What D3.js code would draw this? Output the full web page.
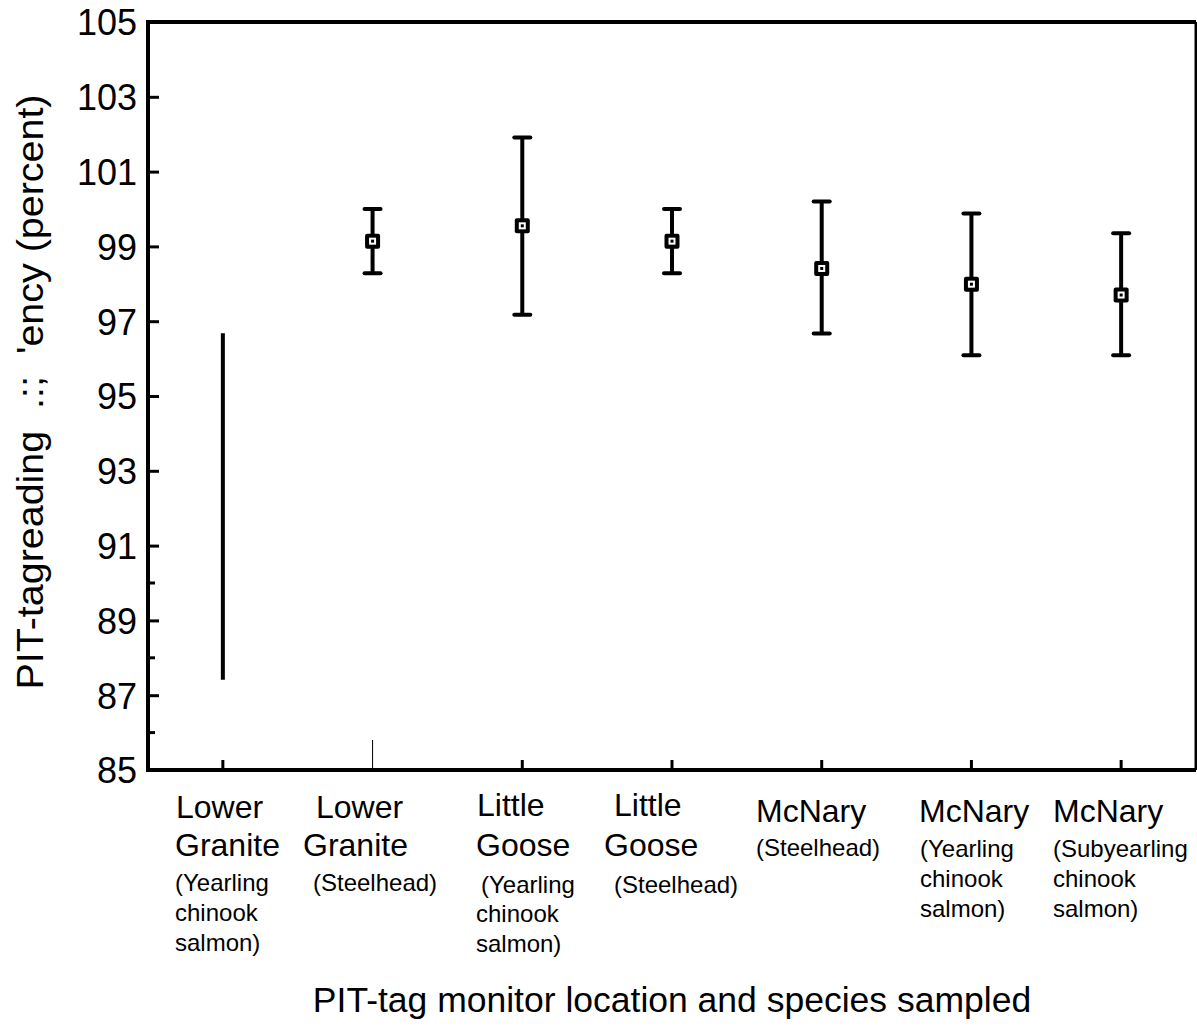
<!DOCTYPE html>
<html>
<head>
<meta charset="utf-8">
<script src="https://cdn.jsdelivr.net/npm/d3@7"></script>
<style>
  body { margin: 0; background: #fff; }
  svg { display: block; font-family: Arial, "Liberation Sans", sans-serif; }
</style>
</head>
<body>
<script>
// site / species groups along the x axis
var categories = ["LGR-YC", "LGR-SH", "LGS-YC", "LGS-SH", "MCN-SH", "MCN-YC", "MCN-SY"];
// mean reading efficiency and error bar ends (percent); first group has no mean marker
var means = [null, 99.14, 99.55, 99.14, 98.41, 97.99, 97.70];
var lower = [87.41, 98.28, 97.17, 98.28, 96.67, 96.09, 96.09];
var upper = [96.68, 100.0, 101.91, 100.0, 100.2, 99.88, 99.35];
var majorTicks = [85, 87, 89, 91, 93, 95, 97, 99, 101, 103, 105];
var minorTicks = [86, 88, 90];
// category label lines: [big lines], [small lines]
var bigLines = [["Lower", "Granite"], ["Lower", "Granite"], ["Little", "Goose"], ["Little", "Goose"],
                ["McNary"], ["McNary"], ["McNary"]];
var smallLines = [["(Yearling", "chinook", "salmon)"], ["(Steelhead)"], ["(Yearling", "chinook", "salmon)"],
                  ["(Steelhead)"], ["(Steelhead)"], ["(Yearling", "chinook", "salmon)"],
                  ["(Subyearling", "chinook", "salmon)"]];

function main() {
  var W = 1197, H = 1026;
  var svg = d3.select("body").append("svg")
    .attr("width", W)
    .attr("height", H);

  var left = 148, right = 1196, top = 22, bottom = 770;

  var x = d3.scaleBand().domain(categories).range([left, right]);
  var y = d3.scaleLinear().domain([85, 105]).range([bottom, top]);

  // frame
  svg.append("line").attr("x1", left).attr("x2", right).attr("y1", top).attr("y2", top)
    .attr("stroke", "#000").attr("stroke-width", 4);
  svg.append("line").attr("x1", right).attr("x2", right).attr("y1", top).attr("y2", bottom)
    .attr("stroke", "#000").attr("stroke-width", 3);

  // y axis
  var yAxis = svg.append("g")
    .attr("transform", "translate(" + left + ",0)")
    .call(d3.axisLeft(y).tickValues(majorTicks).tickSize(-11).tickPadding(11).tickFormat(d3.format("d")));
  yAxis.select(".domain").remove();
  yAxis.selectAll(".tick line").attr("stroke", "#000").attr("stroke-width", 3);
  yAxis.selectAll(".tick text")
    .attr("fill", "#000")
    .style("font-size", "36px")
    .attr("dy", "0.36em");
  svg.append("line").attr("x1", left).attr("x2", left).attr("y1", top - 2).attr("y2", bottom + 2)
    .attr("stroke", "#000").attr("stroke-width", 4);

  svg.selectAll(".minor")
    .data(minorTicks)
    .join("line")
    .attr("class", "minor")
    .attr("x1", left).attr("x2", left + 7)
    .attr("y1", d => y(d)).attr("y2", d => y(d))
    .attr("stroke", "#000").attr("stroke-width", 3);

  // x axis
  var xAxis = svg.append("g")
    .attr("transform", "translate(0," + bottom + ")")
    .call(d3.axisBottom(x).tickSize(-10).tickFormat(""));
  xAxis.select(".domain").remove();
  xAxis.selectAll(".tick line").attr("stroke", "#000").attr("stroke-width", 3);
  xAxis.selectAll(".tick line").filter((d, i) => i === 1)
    .attr("y2", -30).attr("stroke-width", 1);
  svg.append("line").attr("x1", left - 2).attr("x2", right).attr("y1", bottom).attr("y2", bottom)
    .attr("stroke", "#000").attr("stroke-width", 4);

  var data = categories.map((c, i) => ({cat: c, mean: means[i], lo: lower[i], hi: upper[i]}));
  var cx = d => x(d.cat) + x.bandwidth() / 2;

  // error bar stems
  svg.selectAll(".stem")
    .data(data)
    .join("line")
    .attr("class", "stem")
    .attr("x1", cx).attr("x2", cx)
    .attr("y1", d => y(d.hi)).attr("y2", d => y(d.lo))
    .attr("stroke", "#000").attr("stroke-width", 4);

  // caps only where a mean is plotted
  var withMean = data.filter(d => d.mean !== null);
  ["lo", "hi"].forEach(function(k) {
    svg.selectAll(".cap-" + k)
      .data(withMean)
      .join("line")
      .attr("class", "cap-" + k)
      .attr("x1", d => cx(d) - 8).attr("x2", d => cx(d) + 8)
      .attr("y1", d => y(d[k])).attr("y2", d => y(d[k]))
      .attr("stroke", "#000").attr("stroke-width", 4).attr("stroke-linecap", "round");
  });

  var marks = svg.selectAll(".mark")
    .data(withMean)
    .join("g")
    .attr("class", "mark")
    .attr("transform", d => "translate(" + cx(d) + "," + y(d.mean) + ")");
  marks.append("rect").attr("x", -7.5).attr("y", -7.5).attr("width", 15).attr("height", 15).attr("rx", 2).attr("fill", "#000");
  marks.append("rect").attr("x", -3.5).attr("y", -3.5).attr("width", 7).attr("height", 7).attr("fill", "#fff");
  marks.append("rect").attr("x", -1.5).attr("y", -1.5).attr("width", 3).attr("height", 3).attr("fill", "#000");

  // category labels (left-aligned under each group)
  var bigX = [[176, 175], [316, 303], [477, 476], [614, 604], [756], [919], [1053]];
  var smallX = [[175, 175, 175], [313], [481, 476, 476], [614], [756], [920, 920, 920], [1053, 1053, 1053]];
  var bigY = [[818, 856], [818, 856], [816, 856], [816, 856], [822], [822], [822]];
  var smallY = [[891, 921, 951], [891], [893, 922, 952], [893], [856], [857, 887, 917], [857, 887, 917]];

  categories.forEach(function(c, i) {
    svg.selectAll(".big" + i)
      .data(bigLines[i])
      .join("text")
      .attr("class", "big" + i)
      .attr("x", (d, j) => bigX[i][j])
      .attr("y", (d, j) => bigY[i][j])
      .style("font-size", "32px")
      .text(d => d);
    svg.selectAll(".small" + i)
      .data(smallLines[i])
      .join("text")
      .attr("class", "small" + i)
      .attr("x", (d, j) => smallX[i][j])
      .attr("y", (d, j) => smallY[i][j])
      .style("font-size", "24px")
      .text(d => d);
  });

  // axis titles
  svg.append("text")
    .attr("x", 672)
    .attr("y", 1012)
    .attr("text-anchor", "middle")
    .style("font-size", "35.5px")
    .text("PIT-tag monitor location and species sampled");

  svg.append("text")
    .attr("transform", "translate(43,392) rotate(-90)")
    .attr("text-anchor", "middle")
    .style("font-size", "37px")
    .style("white-space", "pre")
    .attr("textLength", 595)
    .attr("lengthAdjust", "spacingAndGlyphs")
    .text("PIT-tagreading  .:;  'ency (percent)");
}
main();
</script>
</body>
</html>
